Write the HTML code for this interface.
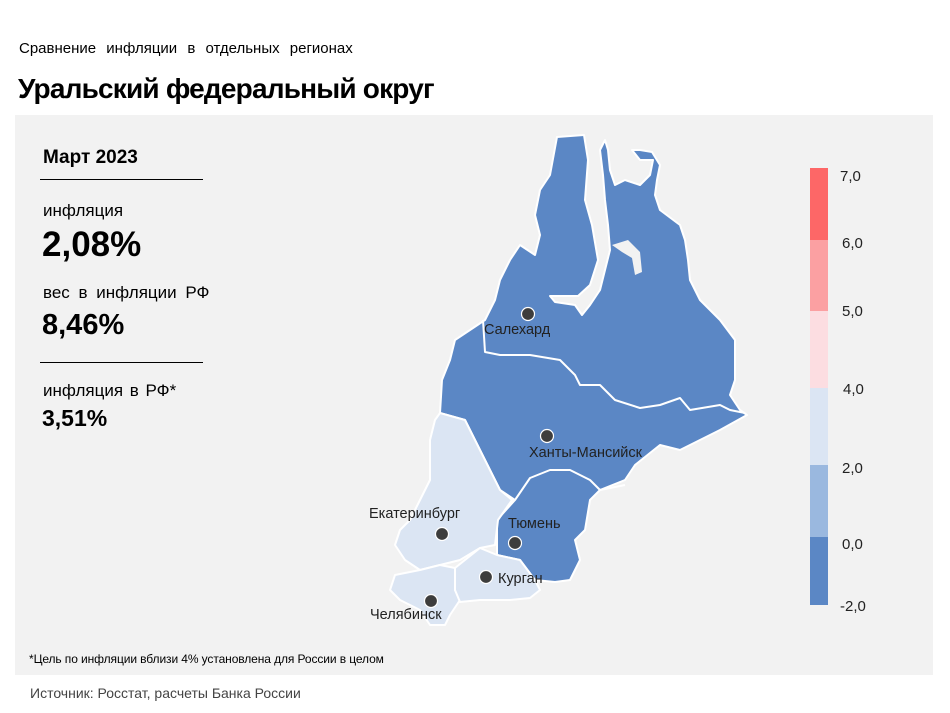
<!DOCTYPE html>
<html><head><meta charset="utf-8"><style>
body{margin:0;width:950px;height:713px;background:#fff;font-family:"Liberation Sans",sans-serif;position:relative;overflow:hidden;color:#000}
.a{position:absolute;white-space:nowrap}
</style></head><body>
<div class="a" style="left:19px;top:40px;font-size:15px;word-spacing:6px">Сравнение инфляции в отдельных регионах</div>
<div class="a" style="left:18px;top:73px;font-size:28px;font-weight:bold;letter-spacing:-0.8px">Уральский федеральный округ</div>
<div class="a" style="left:15px;top:115px;width:918px;height:560px;background:#f2f2f2"></div>
<div class="a" style="left:43px;top:147px;font-size:19px;font-weight:bold">Март 2023</div>
<div class="a" style="left:40px;top:179px;width:163px;border-top:1px solid #000"></div>
<div class="a" style="left:43px;top:201px;font-size:17px">инфляция</div>
<div class="a" style="left:42px;top:225px;font-size:35px;font-weight:bold">2,08%</div>
<div class="a" style="left:43px;top:283px;font-size:17px;word-spacing:4px">вес в инфляции РФ</div>
<div class="a" style="left:42px;top:309px;font-size:29px;font-weight:bold">8,46%</div>
<div class="a" style="left:40px;top:362px;width:163px;border-top:1px solid #000"></div>
<div class="a" style="left:43px;top:381px;font-size:17px;word-spacing:2px">инфляция в РФ*</div>
<div class="a" style="left:42px;top:405px;font-size:23px;font-weight:bold">3,51%</div>
<div class="a" style="left:29px;top:652px;font-size:12px;letter-spacing:-0.1px">*Цель по инфляции вблизи 4% установлена для России в целом</div>
<div class="a" style="left:30px;top:685px;font-size:14px;color:#444">Источник: Росстат, расчеты Банка России</div>
<svg class="a" style="left:0;top:0" width="950" height="713">
<g stroke="#fff" stroke-width="2" stroke-linejoin="round">
<path fill="#5b87c5" d="M557,137 L584,135 L588,160 L585,200 L592,225 L598,260 L590,285 L578,296 L560,296 L550,296 L555,302 L575,305 L582,315 L590,305 L600,290 L605,270 L610,250 L608,225 L605,200 L603,175 L600,150 L605,140 L608,150 L610,170 L615,185 L625,180 L640,185 L650,175 L653,160 L640,160 L632,150 L640,150 L652,152 L660,165 L657,180 L655,195 L660,210 L680,225 L685,240 L688,260 L690,280 L700,300 L720,320 L735,340 L735,380 L730,395 L740,410 L747,415 L720,430 L700,440 L680,450 L660,445 L635,465 L625,480 L600,490 L590,500 L585,530 L575,540 L580,560 L570,580 L555,582 L535,580 L520,560 L497,555 L497,520 L515,500 L500,490 L485,460 L475,440 L465,420 L440,413 L442,380 L450,360 L455,340 L470,330 L485,320 L495,300 L500,280 L510,260 L520,245 L535,255 L540,235 L535,215 L540,190 L550,175 Z"/>
<path fill="#f2f2f2" stroke="none" d="M612,245 L628,240 L640,252 L642,272 L635,275 L632,258 L622,252 Z"/>
<path fill="#dbe5f3" d="M440,413 L465,420 L475,440 L485,460 L500,490 L512,500 L498,520 L495,545 L480,548 L460,560 L440,565 L420,570 L405,560 L395,545 L400,530 L410,520 L420,500 L430,480 L430,440 L435,420 Z"/>
<path fill="#dbe5f3" d="M420,570 L440,565 L455,568 L455,590 L460,600 L450,615 L445,625 L430,625 L420,610 L400,600 L390,590 L395,575 Z"/>
<path fill="#dbe5f3" d="M455,568 L480,548 L497,555 L520,560 L535,580 L540,590 L530,598 L510,600 L480,600 L460,602 L455,590 Z"/>
<path fill="none" d="M483,320 L485,352 L500,355 L530,355 L560,360 L575,375 L580,385 L600,385 L615,400 L640,408 L660,405 L680,398 L690,410 L720,405 L730,410 L745,413"/>
<path fill="none" d="M515,500 L530,478 L550,470 L570,470 L590,480 L600,490 L625,485"/>
</g>
<g fill="#3d3d3d" stroke="#fff" stroke-width="1.2">
<circle cx="528" cy="314" r="6.5"/><circle cx="547" cy="436" r="6.5"/><circle cx="442" cy="534" r="6.5"/><circle cx="515" cy="543" r="6.5"/><circle cx="486" cy="577" r="6.5"/><circle cx="431" cy="601" r="6.5"/>
</g>
<g font-family="Liberation Sans, sans-serif" font-size="14.5" fill="#222">
<text x="484" y="334">Салехард</text><text x="529" y="457">Ханты-Мансийск</text><text x="369" y="518">Екатеринбург</text><text x="508" y="528">Тюмень</text><text x="498" y="583">Курган</text><text x="370" y="619">Челябинск</text>
</g>
<rect x="810" y="168" width="18" height="72" fill="#fd6767"/>
<rect x="810" y="240" width="18" height="71" fill="#fba0a2"/>
<rect x="810" y="311" width="18" height="77" fill="#fcdde1"/>
<rect x="810" y="388" width="18" height="77" fill="#dbe5f3"/>
<rect x="810" y="465" width="18" height="72" fill="#9ab8df"/>
<rect x="810" y="537" width="18" height="68" fill="#5b87c5"/>
<g font-family="Liberation Sans, sans-serif" font-size="15" fill="#222">
<text x="840" y="181">7,0</text><text x="842" y="248">6,0</text><text x="842" y="316">5,0</text><text x="843" y="394">4,0</text><text x="842" y="473">2,0</text><text x="842" y="549">0,0</text><text x="840" y="611">-2,0</text>
</g>
</svg>
</body></html>
